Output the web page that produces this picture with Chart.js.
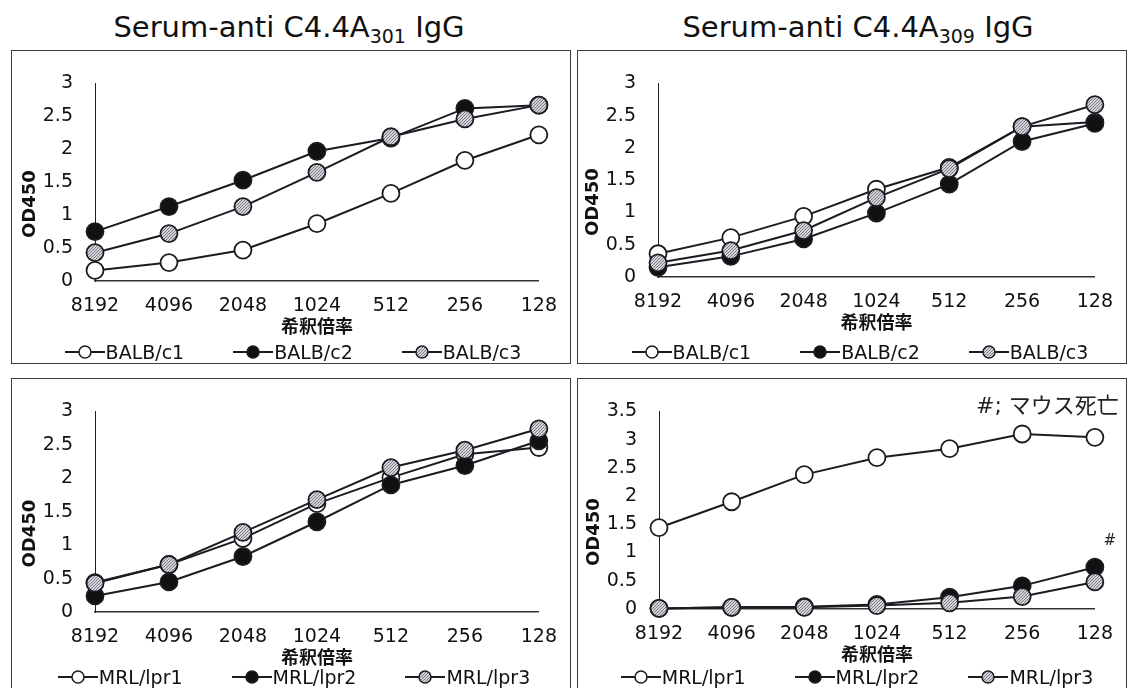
<!DOCTYPE html>
<html>
<head>
<meta charset="utf-8">
<script src="https://cdn.jsdelivr.net/npm/chart.js@4.4.1/dist/chart.umd.min.js"></script>
<style>
  body { margin: 0; width: 1128px; height: 688px; background: #fff; position: relative; overflow: hidden;
         font-family: 'DejaVu Sans', 'Noto Sans CJK JP', sans-serif; color: #111; }
  .title { position: absolute; top: 10px; font-size: 29px; line-height: 34px; white-space: nowrap; transform: translateX(-50%); }
  .title span { font-size: 19px; position: relative; top: 6px; }
  .box { position: absolute; border: 1.5px solid #3c3c3c; box-sizing: border-box; }
  .wrap { position: absolute; }
  .legend { position: absolute; display: flex; justify-content: center; gap: 49px; font-size: 19px; line-height: 20px; }
  .legend .item { display: flex; align-items: center; }
  .legend canvas { margin-right: 1px; }
</style>
</head>
<body>
<div class="title" style="left:289px">Serum-anti C4.4A<span>301</span> IgG</div>
<div class="title" style="left:858px">Serum-anti C4.4A<span>309</span> IgG</div>

<script>
    // dilution factors (x categories)
    const dilutions = ['8192', '4096', '2048', '1024', '512', '256', '128'];
    const balbNames = ['BALB/c1', 'BALB/c2', 'BALB/c3'];
    const mrlNames = ['MRL/lpr1', 'MRL/lpr2', 'MRL/lpr3'];

    // OD450, C4.4A301
    const balb301c1 = [0.16, 0.28, 0.47, 0.87, 1.33, 1.83, 2.22];
    const balb301c2 = [0.75, 1.13, 1.53, 1.97, 2.17, 2.62, 2.67];
    const balb301c3 = [0.43, 0.72, 1.13, 1.65, 2.19, 2.46, 2.67];
    const mrl301a = [0.44, 0.71, 1.10, 1.62, 2.01, 2.36, 2.46];
    const mrl301b = [0.24, 0.45, 0.83, 1.35, 1.90, 2.19, 2.56];
    const mrl301c = [0.43, 0.71, 1.19, 1.68, 2.16, 2.42, 2.74];

    // OD450, C4.4A309
    const balb309c1 = [0.36, 0.61, 0.94, 1.36, 1.70, 2.33, 2.40];
    const balb309c2 = [0.15, 0.32, 0.59, 0.99, 1.44, 2.10, 2.38];
    const balb309c3 = [0.22, 0.41, 0.72, 1.23, 1.68, 2.33, 2.67];
    const mrl309a = [1.44, 1.90, 2.38, 2.68, 2.84, 3.10, 3.04];
    const mrl309b = [0.01, 0.03, 0.04, 0.08, 0.21, 0.41, 0.74];
    const mrl309c = [0.01, 0.03, 0.03, 0.06, 0.11, 0.22, 0.48];

    const yMaxTop = 3;
    const yMaxMrl309 = 3.5;
    const yStep = 0.5;

    Chart.defaults.font.family = "'DejaVu Sans', 'Noto Sans CJK JP', sans-serif";
    Chart.defaults.color = '#111';

    const ink = '#1b1b22';

    // grey hatched fill used for the third mouse
    function hatchTile() {
        const c = document.createElement('canvas');
        c.width = 3; c.height = 3;
        const g = c.getContext('2d');
        g.fillStyle = '#d4d4d8';
        g.fillRect(0, 0, 3, 3);
        g.fillStyle = '#7a7a88';
        g.fillRect(2, 0, 1, 1);
        g.fillRect(1, 1, 1, 1);
        g.fillRect(0, 2, 1, 1);
        return c;
    }
    const tile = hatchTile();
    const hatch = tile.getContext('2d').createPattern(tile, 'repeat');
    const fills = ['#ffffff', '#111111', hatch];

    const yTitle = {
        id: 'yTitle',
        afterDraw(chart) {
            const { ctx, chartArea: a } = chart;
            ctx.save();
            ctx.translate(a.left - 65, (a.top + a.bottom) / 2 + 22);
            ctx.rotate(-Math.PI / 2);
            ctx.font = "bold 18px 'DejaVu Sans'";
            ctx.fillStyle = '#111';
            ctx.textAlign = 'center';
            ctx.textBaseline = 'middle';
            ctx.fillText('OD450', 0, 0);
            ctx.restore();
        }
    };

    const deathNote = {
        id: 'deathNote',
        afterDraw(chart) {
            const { ctx, chartArea: a } = chart;
            const pt = chart.getDatasetMeta(1).data[6];
            ctx.save();
            ctx.fillStyle = '#222';
            ctx.font = "22px 'DejaVu Sans', 'Noto Sans CJK JP'";
            ctx.textAlign = 'right';
            ctx.textBaseline = 'middle';
            ctx.fillText('#; マウス死亡', a.right + 24, a.top - 4);
            ctx.font = "15px 'DejaVu Sans'";
            ctx.textAlign = 'center';
            ctx.fillText('#', pt.x + 15, pt.y - 26);
            ctx.restore();
        }
    };

    function legendIcon(i) {
        const c = document.createElement('canvas');
        c.width = 40; c.height = 16;
        const g = c.getContext('2d');
        g.strokeStyle = ink;
        g.lineWidth = 2;
        g.beginPath(); g.moveTo(0, 8); g.lineTo(40, 8); g.stroke();
        g.beginPath(); g.arc(20, 8, 6, 0, Math.PI * 2);
        g.fillStyle = i === 2 ? g.createPattern(tile, 'repeat') : fills[i];
        g.fill();
        g.lineWidth = 1.5;
        g.stroke();
        return c;
    }

    function addPanel(p) {
        const box = document.createElement('div');
        box.className = 'box';
        Object.assign(box.style, { left: p.x + 'px', top: p.y + 'px', width: p.w + 'px', height: p.h + 'px' });
        document.body.appendChild(box);

        const wrap = document.createElement('div');
        wrap.className = 'wrap';
        Object.assign(wrap.style, { left: p.x + 'px', top: p.y + 'px', width: p.w + 'px', height: p.h + 'px' });
        const canvas = document.createElement('canvas');
        wrap.appendChild(canvas);
        document.body.appendChild(wrap);

        const leg = document.createElement('div');
        leg.className = 'legend';
        Object.assign(leg.style, { left: (p.x + p.legendDx) + 'px', width: p.w + 'px', top: (p.legendY - 10) + 'px' });
        p.names.forEach((name, i) => {
            const item = document.createElement('div');
            item.className = 'item';
            item.appendChild(legendIcon(i));
            const t = document.createElement('span');
            t.textContent = name;
            item.appendChild(t);
            leg.appendChild(item);
        });
        document.body.appendChild(leg);

        new Chart(canvas, {
            type: 'line',
            data: {
                labels: dilutions,
                datasets: p.series.map((vals, i) => ({
                    label: p.names[i],
                    data: vals,
                    borderColor: ink,
                    borderWidth: 2,
                    pointRadius: 8.5,
                    pointHoverRadius: 8.5,
                    pointBorderWidth: 1.8,
                    pointBorderColor: ink,
                    pointBackgroundColor: fills[i],
                    backgroundColor: fills[i],
                    tension: 0,
                    fill: false,
                    clip: false,
                    order: 2 - i
                }))
            },
            options: {
                responsive: true,
                maintainAspectRatio: false,
                animation: false,
                layout: { padding: { left: 0, top: p.top, right: p.w - p.right, bottom: p.h - p.bottom - 58 } },
                plugins: { legend: { display: false }, tooltip: { enabled: false } },
                scales: {
                    x: {
                        offset: false,
                        grid: { display: false, drawTicks: false },
                        border: { color: '#333', width: 1.5 },
                        ticks: { padding: 14, font: { size: 19 }, color: '#111', maxRotation: 0, autoSkip: false },
                        title: { display: true, text: '希釈倍率', font: { size: 18, weight: 'bold' }, color: '#111', padding: 0 },
                        afterFit: s => { s.height = 58; }
                    },
                    y: {
                        min: 0,
                        max: p.yMax,
                        grid: { display: false, drawTicks: false },
                        border: { color: '#222', width: 1 },
                        ticks: { stepSize: yStep, padding: 22, font: { size: 19 }, color: '#111', callback: v => String(v) },
                        afterFit: s => { s.width = p.left; }
                    }
                }
            },
            plugins: p.note ? [yTitle, deathNote] : [yTitle]
        });
    }

    addPanel({ x: 11, y: 50, w: 560, h: 314, left: 84, right: 529, top: 22, bottom: 231, yMax: yMaxTop,
               names: balbNames, series: [balb301c1, balb301c2, balb301c3], legendY: 352, legendDx: 2 });
    addPanel({ x: 577, y: 50, w: 550, h: 314, left: 81, right: 523, top: 22, bottom: 227, yMax: yMaxTop,
               names: balbNames, series: [balb309c1, balb309c2, balb309c3], legendY: 352, legendDx: 8 });
    addPanel({ x: 11, y: 378, w: 560, h: 312, left: 84, right: 529, top: 23, bottom: 234, yMax: yMaxTop,
               names: mrlNames, series: [mrl301a, mrl301b, mrl301c], legendY: 677, legendDx: 3 });
    addPanel({ x: 577, y: 378, w: 550, h: 312, left: 82, right: 524, top: 21, bottom: 231, yMax: yMaxMrl309,
               names: mrlNames, series: [mrl309a, mrl309b, mrl309c], legendY: 677, legendDx: 5, note: true });
</script>
</body>
</html>
